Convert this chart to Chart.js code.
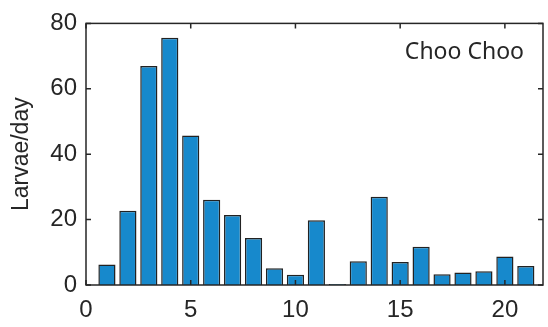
<!DOCTYPE html>
<html>
<head>
<meta charset="utf-8">
<script src="https://cdn.jsdelivr.net/npm/chart.js@4"></script>
<style>
  html, body { margin: 0; padding: 0; background: #fff; }
  #wrap { width: 548px; height: 327px; }
</style>
</head>
<body>
<div id="wrap"><canvas id="myChart"></canvas></div>
<script>
const days = [1, 2, 3, 4, 5, 6, 7, 8, 9, 10, 11, 12, 13, 14, 15, 16, 17, 18, 19, 20, 21];
const larvae = [6.3, 22.7, 67.0, 75.6, 45.7, 26.1, 21.4, 14.4, 5.1, 3.1, 19.8, 0.3, 7.3, 27.0, 7.0, 11.7, 3.3, 3.8, 4.2, 8.7, 5.8];
const xTicks = [0, 5, 10, 15, 20];
const yTicks = [0, 20, 40, 60, 80];
const siteName = 'Choo Choo';

const AXIS = '#262626';

// box round the plot, inward ticks on all four sides, and the site label
const boxPlugin = {
  id: 'box',
  afterDraw(chart) {
    const {ctx, chartArea: a} = chart;
    const x = chart.scales.x, y = chart.scales.y;
    const len = 5;
    ctx.save();
    ctx.strokeStyle = AXIS;
    ctx.lineWidth = 1.5;
    ctx.beginPath();
    xTicks.forEach(v => {
      const px = x.getPixelForValue(v);
      ctx.moveTo(px, a.bottom); ctx.lineTo(px, a.bottom - len);
      ctx.moveTo(px, a.top); ctx.lineTo(px, a.top + len);
    });
    yTicks.forEach(v => {
      const py = y.getPixelForValue(v);
      ctx.moveTo(a.left, py); ctx.lineTo(a.left + len, py);
      ctx.moveTo(a.right, py); ctx.lineTo(a.right - len, py);
    });
    ctx.stroke();
    ctx.strokeRect(a.left, a.top, a.right - a.left, a.bottom - a.top);

    ctx.fillStyle = AXIS;
    ctx.font = '23px "Noto Sans"';
    ctx.textAlign = 'right';
    ctx.textBaseline = 'alphabetic';
    ctx.fillText(siteName, a.right - 19, a.top + 36);
    ctx.restore();
  }
};

const config = {
  type: 'bar',
  data: {
    datasets: [{
      data: days.map((d, i) => ({x: d, y: larvae[i]})),
      backgroundColor: '#1789cc',
      borderColor: '#222222',
      borderWidth: 1.5,
      categoryPercentage: 1,
      barPercentage: 0.82,
    }]
  },
  options: {
    responsive: true,
    maintainAspectRatio: false,
    animation: false,
    layout: {padding: {top: 17, right: 5, left: 0, bottom: 0}},
    plugins: {
      legend: {display: false},
      tooltip: {enabled: false}
    },
    scales: {
      x: {
        type: 'linear',
        min: 0,
        max: 21.82,
        offset: false,
        grid: {display: false, drawTicks: false},
        border: {display: false},
        afterFit(scale) { scale.height = 42; },
        afterBuildTicks(scale) { scale.ticks = xTicks.map(v => ({value: v})); },
        ticks: {
          color: AXIS,
          padding: 11,
          maxRotation: 0,
          font: {family: '"Liberation Sans", Arial', size: 24}
        }
      },
      y: {
        min: 0,
        max: 80,
        grid: {display: false, drawTicks: false},
        border: {display: false},
        afterFit(scale) { scale.width = 86; },
        afterBuildTicks(scale) { scale.ticks = yTicks.map(v => ({value: v})); },
        ticks: {
          color: AXIS,
          padding: 9,
          font: {family: '"Liberation Sans", Arial', size: 24}
        },
        title: {
          display: true,
          text: 'Larvae/day',
          color: AXIS,
          padding: {top: 8, bottom: 0},
          font: {family: '"Liberation Sans", Arial', size: 23}
        }
      }
    }
  },
  plugins: [boxPlugin]
};

const myChart = new Chart(document.getElementById('myChart'), config);
</script>
</body>
</html>
